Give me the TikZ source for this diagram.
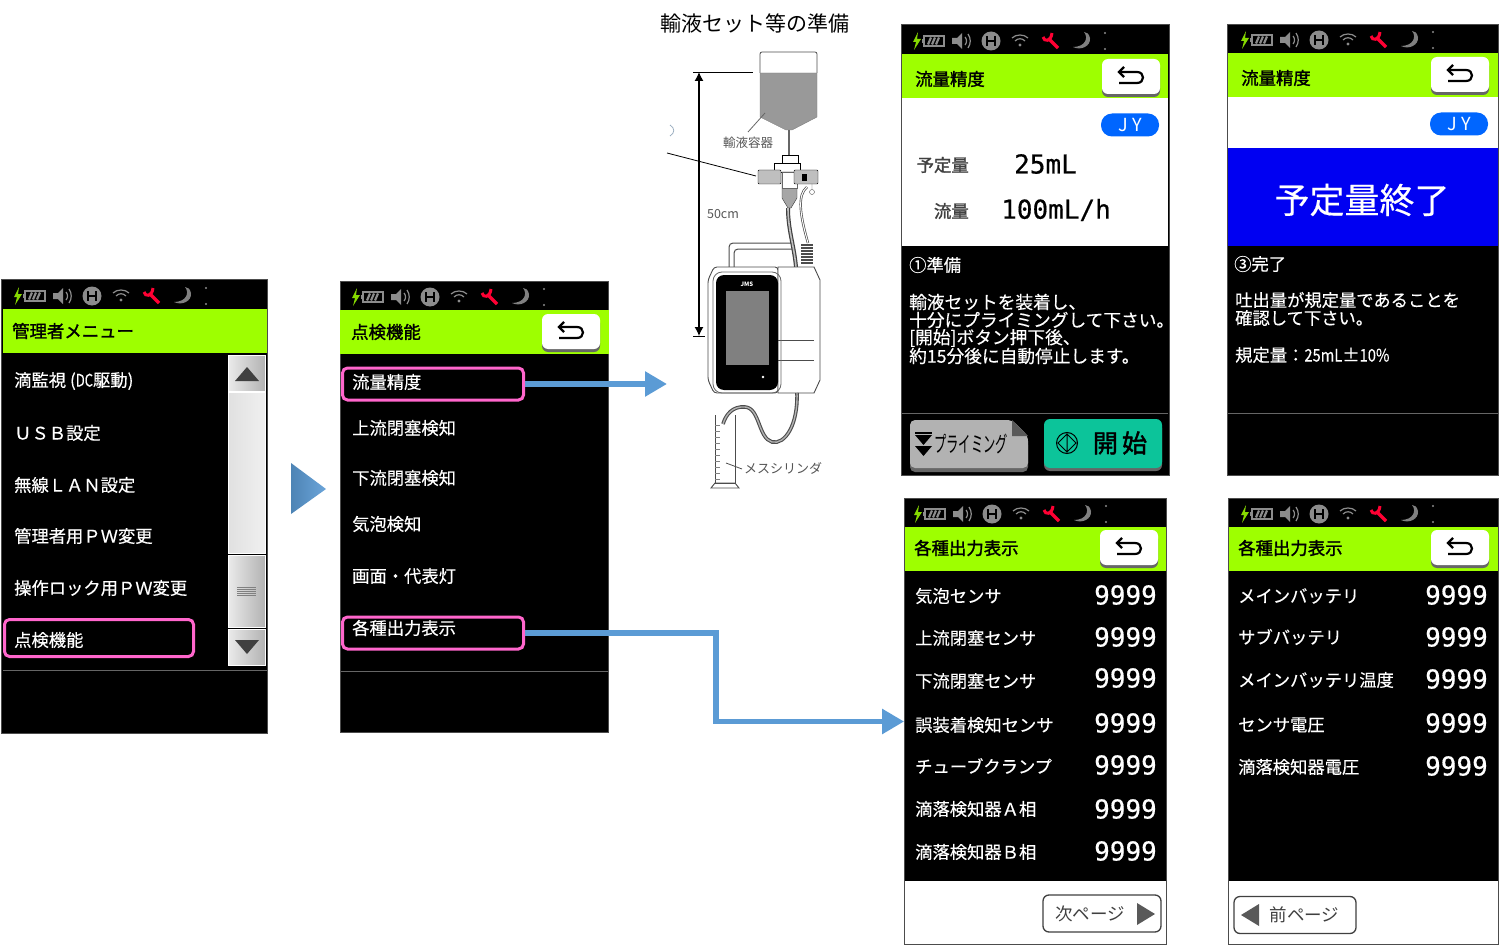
\documentclass[tikz,border=0pt]{standalone}
\usepackage{fontspec}
\setmainfont{Noto Sans CJK JP}
\newfontfamily\scrfont[FakeBold=0.35]{Noto Sans CJK JP}
\newfontfamily\headfont[FakeBold=1.6]{Noto Sans CJK JP}
\newfontfamily\valfont[FakeBold=0.5]{DejaVu Sans Mono}
\usetikzlibrary{arrows.meta}
\definecolor{bargreen}{HTML}{9EFF00}
\definecolor{hlpink}{HTML}{FF66CC}
\definecolor{flowblue}{HTML}{5B9BD5}
\definecolor{pillblue}{HTML}{0066FF}
\definecolor{teal}{HTML}{0CC49A}
\definecolor{illgray}{HTML}{555555}
\definecolor{toolred}{HTML}{FF0033}
\tikzset{
 screen/.style={draw=black!70,fill=black,line width=.8pt,inner sep=0pt},
 greenbar/.style={fill=bargreen},
 hlbox/.style={draw=hlpink,line width=3pt,rounded corners=5pt,inner sep=0pt},
 flowline/.style={line width=5.5pt,draw=flowblue,-{Triangle[length=22pt,width=24pt]}},
 item/.style={anchor=west,inner sep=0pt,text=white,font=\scrfont\fontsize{17.3}{19}\selectfont},
 head/.style={anchor=west,inner sep=0pt,text=black,font=\headfont\fontsize{17.4}{19}\selectfont},
 value/.style={anchor=east,inner sep=0pt,text=white,font=\valfont\fontsize{26}{28}\selectfont},
 illtext/.style={inner sep=0pt,text=illgray,font=\fontsize{12.5}{14}\selectfont},
 pill/.style={fill=pillblue,rounded corners=11pt,inner sep=0pt,minimum width=58pt,minimum height=23pt,
  text=white,font=\fontsize{18}{20}\selectfont},
 pagebtn/.style={draw=black!75,fill=white,line width=1.3pt,rounded corners=6pt,inner sep=0pt,
  minimum height=37pt,text=black!75,font=\fontsize{17.5}{19}\selectfont},
 statusbar/.pic={
  \fill[bargreen!85!black] (5,-9) -- (0,1) -- (3,1) -- (1,9) -- (8,-2) -- (4,-2) -- cycle;
  \draw[black!45,fill=black,line width=1.4pt] (11,-5) rectangle (31,5);
  \fill[black!45] (9,-2) rectangle (11,2);
  \foreach \bx in {15,19,23} \draw[black!45,line width=2.2pt] (\bx,3.5) -- (\bx+3,-3.5);
  \fill[black!45] (39,-3) -- (44,-3) -- (49,-8) -- (49,8) -- (44,3) -- (39,3) -- cycle;
  \draw[black!45,line width=1.2pt] (52,-4) .. controls (54,-2) and (54,2) .. (52,4);
  \draw[black!45,line width=1.2pt] (55,-7) .. controls (58,-3) and (58,3) .. (55,7);
  \fill[black!45] (78,0) circle (9.5);
  \draw[black,line width=2.2pt] (74,-5) -- (74,5) (82,-5) -- (82,5) (74,0) -- (82,0);
  \draw[black!45,line width=1.2pt] (99,-3) .. controls (103,-7) and (111,-7) .. (115,-3);
  \draw[black!45,line width=1.2pt] (102,0) .. controls (105,-3) and (109,-3) .. (112,0);
  \fill[black!45] (107,4) circle (1.7);
  \draw[toolred,line width=3.4pt] (136,-2) -- (145,7);
  \draw[toolred,line width=3pt] (130,-4) .. controls (131,1) and (138,1) .. (139,-8);
  \fill[black!50] (171,-9) .. controls (176,-3) and (172,6) .. (160,6)
   .. controls (168,10) and (178,5) .. (177,-3) .. controls (176,-7) and (174,-9) .. (171,-9) -- cycle;
  \fill[black!45] (192,-8) circle (1.1) (192,8) circle (1.1);
 },
 backbtn/.pic={
  \fill[black!60,rounded corners=6pt] (-29,-15) rectangle (29,20);
  \fill[white,rounded corners=6pt] (-29,-18) rectangle (29,17);
  \draw[black,line width=2.2pt] (-12,-5) -- (6,-5) .. controls (14,-5) and (14,6) .. (6,6) -- (-12,6);
  \draw[black,line width=2.2pt] (-7,-10) -- (-12,-5) -- (-7,0);
 },
}
\begin{document}
\begin{tikzpicture}[x=1pt,y=-1pt]
\useasboundingbox (0,0) rectangle (1500,947);

% admin menu
\node[screen,minimum width=266pt,minimum height=454pt] (menu) at (134.5,506.5) {};
\pic at (14,296) {statusbar};
\fill[greenbar] (3,309) rectangle (267,353);
\node[head] (menutitle) at (12,331) {管理者メニュー};
\draw[black!60,line width=1pt] (3,670) -- (267,670);
\foreach \y/\t [count=\i] in {381/滴監視 (\scalebox{.75}[1]{DC}駆動),433/ＵＳＢ設定,485/無線ＬＡＮ設定,536/管理者用ＰＷ変更,588/操作ロック用ＰＷ変更,640/点検機能}
  \node[item] (menu\i) at (14,\y) {\t};
\draw[draw=white,left color=black!8,right color=black!30] (228,355) rectangle (265,391);
\draw[draw=white,left color=black!12,right color=black!6] (228,392) rectangle (265,553);
\draw[draw=white,left color=black!8,right color=black!30] (228,555) rectangle (265,627);
\draw[draw=white,left color=black!8,right color=black!30] (228,629) rectangle (265,665);
\fill[black!75] (235,381) -- (247,367) -- (259,381) -- cycle;
\fill[black!75] (235,640) -- (247,654) -- (259,640) -- cycle;
\foreach \y in {587,589,591,593,595} \draw[black!50,line width=.9pt] (237,\y) -- (256,\y);
\node[hlbox,minimum width=189pt,minimum height=37pt] (hlcheck) at (99,638) {};

\path[left color=flowblue!85!black,right color=flowblue!90!white] (291,463) -- (326,489) -- (291,514) -- cycle;

% check menu
\node[screen,minimum width=268pt,minimum height=451pt] (check) at (474.5,507) {};
\pic at (352,297) {statusbar};
\fill[greenbar] (340,310) rectangle (609,354);
\node[head] (checktitle) at (351,332) {点検機能};
\pic at (571,332) {backbtn};
\draw[black!60,line width=1pt] (341,671) -- (608,671);
\foreach \y/\t [count=\i] in {382/流量精度,428/上流閉塞検知,478/下流閉塞検知,524/気泡検知,576/画面・代表灯,628/各種出力表示}
  \node[item] (check\i) at (352,\y) {\t};
\node[hlbox,minimum width=181pt,minimum height=32pt] (hlflow) at (433,384) {};
\node[hlbox,minimum width=181pt,minimum height=32pt] (hloutput) at (433,633) {};

% preparation picture
\node[inner sep=0pt,font=\fontsize{21}{24}\selectfont] (preptitle) at (755,23) {輸液セット等の準備};
\draw[black!70,line width=.8pt,rounded corners=2pt] (760,73) -- (760,52) -- (817,52) -- (817,73);
\fill[black!40,draw=black!50] (760,73) -- (817,73) -- (817,117) -- (792,130) -- (786,130) -- (760,117) -- cycle;
\draw[black!60,line width=.8pt] (765,113) -- (748,132);
\node[illtext] (bottle) at (748,143) {輸液容器};
\draw[black!60,line width=2.5pt] (789,130) -- (789,156);
\draw[black,line width=.8pt,fill=white] (782,155) rectangle (798,163);
\draw[black,line width=.8pt,fill=white] (774,163) rectangle (800,172);
\fill[black!35,draw=black!80] (782,172) -- (797,172) -- (797,198) -- (791,208) -- (788,208) -- (782,198) -- cycle;
\fill[white,draw=black!60] (782,172) rectangle (797,188);
\draw[black,fill=black!25,rounded corners=1pt] (758,170) rectangle (781,184);
\draw[black,fill=black!25,rounded corners=1pt] (794,170) rectangle (818,184);
\fill[black] (802,174) rectangle (807,181);
\draw[black!70] (812,192) circle (2.5) (812,184) -- (812,189);
\draw[black,line width=.8pt] (667,153) -- (756,176);
\draw[flowblue!60!black!50,line width=.8pt] (670,125) .. controls (675,128) and (675,133) .. (670,136);
\draw[black,line width=.8pt] (693,72) -- (753,72);
\draw[black,line width=.8pt] (693,336) -- (705,336);
\draw[black,line width=1.2pt,{Latex[length=9pt,width=9pt]}-{Latex[length=9pt,width=9pt]}] (699,72) -- (699,336);
\node[illtext] (height) at (723,214) {50cm};
\draw[black!70,line width=1pt,rounded corners=4pt] (729,267) -- (729,243) -- (793,243);
\draw[black!70,line width=1pt,rounded corners=4pt] (734,267) -- (734,249) -- (795,249);
\draw[black!75,line width=4pt] (788,208) .. controls (788,230) and (794,245) .. (796,267);
\draw[black!25,line width=1.6pt] (788,208) .. controls (788,230) and (794,245) .. (796,267);
\draw[black!70,line width=2.4pt] (807,187) .. controls (797,195) and (800,215) .. (808,243);
\draw[white,line width=1pt] (807,187) .. controls (797,195) and (800,215) .. (808,243);
\foreach \y in {245,248,251,254,257,260,263} \draw[black!70,line width=1.2pt] (801,\y) -- (813,\y);
\draw[black!70,line width=.9pt,fill=white,rounded corners=3pt] (714,267) -- (708,280) -- (708,380) -- (714,393) -- (778,393) -- (778,267) -- cycle;
\draw[black!70,line width=.9pt,fill=white] (778,267) -- (814,267) -- (820,280) -- (820,380) -- (814,393) -- (778,393) -- cycle;
\draw[black!70,line width=.8pt] (778,340) -- (814,340) (778,360) -- (814,360);
\draw[black!60,line width=.8pt,rounded corners=9pt] (713,272) rectangle (781,393);
\fill[black,rounded corners=8pt] (716,275) rectangle (778,390);
\fill[black!50] (726,291) rectangle (769,365);
\fill[white] (763,377) circle (1.4);
\node[inner sep=0pt,text=white,font=\itshape\bfseries\fontsize{6}{7}\selectfont] (logo) at (747,284) {JMS};
\draw[black!70,line width=3.6pt] (797,393) .. controls (798,425) and (785,445) .. (772,442)
 .. controls (758,438) and (760,408) .. (745,407) .. controls (733,406) and (726,414) .. (723,424);
\draw[black!30,line width=1.4pt] (797,393) .. controls (798,425) and (785,445) .. (772,442)
 .. controls (758,438) and (760,408) .. (745,407) .. controls (733,406) and (726,414) .. (723,424);
\draw[black!70,line width=.9pt] (715,415) -- (715,483) -- (735,483) -- (735,415);
\draw[black!70,line width=.9pt] (711,488) -- (739,488) -- (735,483) -- (715,483) -- cycle;
\foreach \y in {425,431,...,480} \draw[black!50,line width=.4pt] (715,\y) -- (720,\y);
\draw[black!70,line width=.8pt] (726,463) -- (742,469);
\node[illtext,font=\fontsize{13}{15}\selectfont] (cylinder) at (783,468) {メスシリンダ};

% flow accuracy, prepare
\node[screen,minimum width=268pt,minimum height=451pt] (prepare) at (1035.5,250) {};
\pic at (913,41) {statusbar};
\fill[white] (902,98) rectangle (1168,246);
\fill[greenbar] (902,54) rectangle (1168,98);
\node[head] (preparetitle) at (915,79) {流量精度};
\pic at (1131,77) {backbtn};
\node[pill] (preparejy) at (1130,125) {J Y};
\node[head,anchor=east,text=black!75] (preparelabel1) at (969,165) {予定量};
\node[head,anchor=east,text=black!75] (preparelabel2) at (969,211) {流量};
\node[value,text=black,anchor=west] (preparevalue1) at (1014,164) {25mL};
\node[value,text=black,anchor=west] (preparevalue2) at (1001,210) {100mL/h};
\node[item] (preparestep) at (909,265) {①準備};
\foreach \y/\t [count=\i] in {302/輸液セットを装着し、,320/十分にプライミングして下さい。,338/[開始]ボタン押下後、,356/約15分後に自動停止します。}
  \node[item,font=\scrfont\fontsize{17.7}{19}\selectfont] (preparetext\i) at (909,\y) {\t};
\draw[black!60,line width=1pt] (902,413) -- (1168,413);
\fill[black!60,rounded corners=5pt] (910,424) -- (910,472) -- (1028,472) -- (1028,440) -- (1012,424) -- cycle;
\fill[black!30,rounded corners=5pt] (910,420) -- (910,468) -- (1028,468) -- (1028,436) -- (1012,420) -- cycle;
\fill[black!65] (1012,420) -- (1028,436) -- (1012,436) -- cycle;
\fill[black] (915,435) -- (932,435) -- (923.5,445) -- cycle (915,446) -- (932,446) -- (923.5,456) -- cycle;
\draw[black,line width=1.5pt] (915,433) -- (932,433);
\node[inner sep=0pt,text=black,font=\fontsize{22}{24}\selectfont] (priming) at (971,444) {\scalebox{.56}[1]{プライミング}};
\fill[black!60,rounded corners=6pt] (1044,422) rectangle (1162,471);
\fill[teal,rounded corners=6pt] (1044,419) rectangle (1162,468);
\draw[black,line width=1pt] (1067,443) circle (10.5) (1067,434) -- (1076,443) -- (1067,452) -- (1058,443) -- cycle (1067,434) -- (1067,452);
\node[inner sep=0pt,text=black,font=\headfont\fontsize{25}{27}\selectfont] (startlabel) at (1120,443) {開\,始};

% flow accuracy, finished
\node[screen,minimum width=271pt,minimum height=451pt] (finish) at (1363,250) {};
\pic at (1241,40) {statusbar};
\fill[white] (1228,97) rectangle (1498,148);
\fill[greenbar] (1228,53) rectangle (1498,97);
\fill[blue!95!black] (1228,148) rectangle (1498,246);
\node[head] (finishtitle) at (1241,78) {流量精度};
\pic at (1460,75) {backbtn};
\node[pill] (finishjy) at (1459,124) {J Y};
\node[inner sep=0pt,text=white,font=\scrfont\fontsize{35}{38}\selectfont] (finishmsg) at (1362,200) {予定量終了};
\node[item] (finishstep) at (1234,264) {③完了};
\foreach \y/\t [count=\i] in {300/吐出量が規定量であることを,318/確認して下さい。,355/規定量：\scalebox{.85}[1]{25mL}±\scalebox{.85}[1]{10\%}}
  \node[item] (finishtext\i) at (1235,\y) {\t};
\draw[black!60,line width=1pt] (1228,413) -- (1498,413);

% output values, page 1
\node[screen,minimum width=262pt,minimum height=446pt] (outputs) at (1035.5,721.5) {};
\pic at (914,514) {statusbar};
\fill[greenbar] (905,527) rectangle (1166,571);
\fill[white] (905,881) rectangle (1166,944);
\node[head] (outputstitle) at (914,548) {各種出力表示};
\pic at (1129,548) {backbtn};
\foreach \y/\t/\v [count=\i] in {596/気泡センサ/595,638/上流閉塞センサ/637,681/下流閉塞センサ/678,725/誤装着検知センサ/723,766/チューブクランプ/765,809/滴落検知器Ａ相/809,852/滴落検知器Ｂ相/851}
{
  \node[item] (outlabel\i) at (915,\y) {\t};
  \node[value] (outvalue\i) at (1157,\v) {9999};
}
\node[pagebtn,minimum width=118pt] (nextpage) at (1102,913.5) {次ページ\hspace{24pt}\null};
\fill[black!65] (1137,903) -- (1155,914) -- (1137,925) -- cycle;

% output values, page 2
\node[screen,minimum width=270pt,minimum height=446pt] (outputs2) at (1363.5,721.5) {};
\pic at (1241,514) {statusbar};
\fill[greenbar] (1229,527) rectangle (1498,571);
\fill[white] (1229,881) rectangle (1498,944);
\node[head] (outputs2title) at (1238,548) {各種出力表示};
\pic at (1460,548) {backbtn};
\foreach \y/\t/\v [count=\i] in {596/メインバッテリ/595,637/サブバッテリ/637,680/メインバッテリ温度/679,725/センサ電圧/723,767/滴落検知器電圧/766}
{
  \node[item] (out2label\i) at (1238,\y) {\t};
  \node[value] (out2value\i) at (1488,\v) {9999};
}
\node[pagebtn,minimum width=122pt] (prevpage) at (1295,915) {\null\hspace{19pt}前ページ};
\fill[black!65] (1259,904) -- (1241,915) -- (1259,926) -- cycle;

% connectors
\coordinate (prepare picture) at (667,383);
\coordinate (bend) at (716,680);
\draw[flowline] (hlflow.east) -- (hlflow.east -| prepare picture);
\draw[flowline] (hloutput.east) -| (bend) |- (outputs.west);
\end{tikzpicture}
\end{document}
